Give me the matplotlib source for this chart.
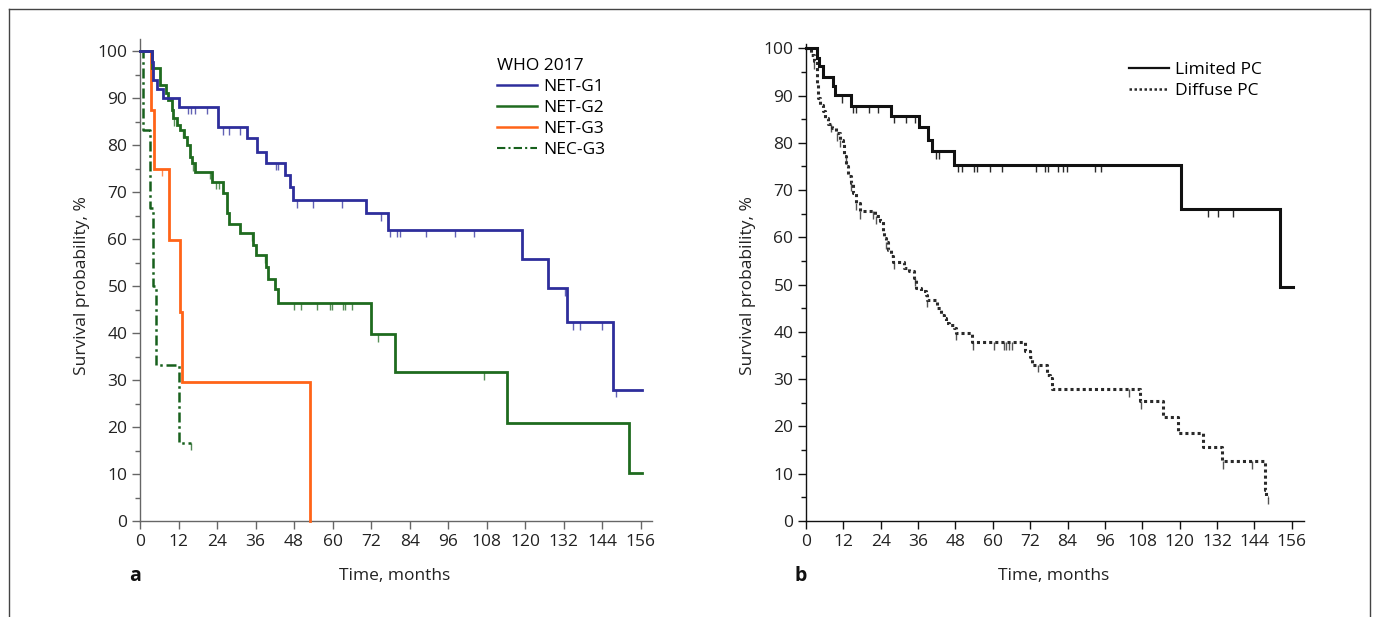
import numpy as np
import matplotlib
matplotlib.use('Agg')
import matplotlib.pyplot as plt
from matplotlib.lines import Line2D

plt.rcParams['font.family'] = ['Open Sans', 'DejaVu Sans']

# ---------------- data (panel a) ----------------
g1_t = [0, 3.6, 4.2, 5.2, 7.3, 12.2, 24.4, 33.2, 36.3, 39.2, 45.1, 46.7, 47.7, 70.3, 77.3, 119.0, 127.2, 133.1, 147.4]
g1_s = [100, 97.7, 93.8, 92.0, 90.0, 88.2, 83.8, 81.4, 78.6, 76.2, 73.6, 71.1, 68.3, 65.5, 62.0, 55.7, 49.5, 42.3, 27.9]
g1_end = 156.5
g1_cens = [15, 16, 17, 21, 26, 27.8, 31, 42.3, 43, 48.8, 54, 63, 75, 78, 80, 81, 89, 98, 104, 132.3, 135, 137, 144, 148.2]

g2_t = [0, 3.6, 6.2, 8.1, 8.8, 9.9, 10.4, 11.4, 12.5, 13.8, 14.7, 15.6, 16.3, 17.1, 22.3, 25.9, 27.0, 27.8,
        31.1, 35.3, 36.1, 39.2, 40.0, 42.2, 43.1, 72.1, 79.4, 114.2, 152.3]
g2_s = [100, 96.3, 92.8, 91.0, 89.6, 87.5, 85.7, 84.3, 83.2, 81.8, 80.0, 77.5, 76.1, 74.3, 72.2, 69.7, 65.5, 63.3,
        61.2, 58.7, 56.6, 54.1, 51.6, 49.3, 46.4, 39.7, 31.7, 20.9, 10.3]
g2_end = 156.5
g2_cens = [10.5, 13.5, 16.5, 21.8, 23.7, 24.7, 35, 39, 42, 48, 50, 55, 59.2, 59.9, 63.1, 63.8, 65.9, 74, 107.2]

g3_t = [0, 3.3, 4.4, 9.1, 12.5, 13.2, 53.1]
g3_s = [100, 87.4, 75.0, 59.8, 44.5, 29.6, 0]
g3_end = 53.1
g3_cens = [6.9]

nec_t = [0, 0.8, 3.0, 4.2, 4.9, 12.2]
nec_s = [100, 83.3, 66.7, 50.0, 33.3, 16.7]
nec_end = 16.0
nec_cens = [16.0]

# ---------------- data (panel b) ----------------
lim_t = [0, 3.4, 4.3, 5.4, 8.6, 9.3, 14.4, 27.3, 36.4, 39.3, 40.4, 47.5, 120.3, 152.3]
lim_s = [100, 98.0, 96.3, 94.0, 92.0, 90.1, 87.9, 85.7, 83.3, 80.5, 78.2, 75.4, 66.0, 49.5]
lim_end = 156.4
lim_cens = [11.4, 15.1, 16.2, 20.2, 23.1, 28.1, 32.1, 35.1, 41.7, 42.7, 48.9, 50, 53.9, 55, 59.2, 63,
            73.8, 76.8, 77.8, 80.8, 82.6, 83.7, 92.8, 94.7, 129.2, 132.4, 137.2]

dif_t = [0, 1.5, 2.6, 3.4, 3.9, 4.5, 5.5, 6.1, 7.1, 8.2, 9.5, 10.8, 11.9, 12.2, 13.0, 13.5, 14.6, 15.1, 16.2,
         17.2, 22.0, 23.6, 24.7, 25.2, 25.7, 26.3, 27.3, 27.8, 31.6, 33.2, 34.8, 35.3, 36.9, 38.5, 39.0, 42.2,
         43.3, 44.3, 44.9, 45.9, 47.5, 48.1, 53.4, 70.4, 72.0, 72.5, 77.3, 78.4, 78.9, 107.2, 114.6, 119.5,
         127.5, 133.5, 147.3, 147.8]
dif_s = [100, 98.6, 97.3, 92.7, 89.5, 88.1, 86.7, 85.3, 83.9, 83.2, 82.0, 80.7, 79.7, 77.2, 75.1, 72.9, 71.5,
         69.4, 67.3, 65.5, 64.5, 63.4, 61.3, 59.9, 59.1, 57.4, 56.0, 54.9, 53.5, 52.8, 51.4, 49.3, 48.6, 47.9,
         46.8, 45.1, 43.6, 42.9, 41.9, 41.5, 40.8, 39.8, 37.8, 35.9, 34.8, 33.1, 30.9, 30.2, 27.9, 25.3, 22.1,
         18.7, 15.7, 12.6, 6.6, 5.1]
dif_end = 148.4
dif_cens = [2.6, 7.9, 10, 10.8, 12.8, 14.6, 16.2, 17.2, 21.6, 22.5, 25.7, 28.2, 35.1, 39, 48.1, 53.6, 60.3,
            63.5, 64.3, 65.1, 66.1, 74.6, 103.8, 107.5, 134, 143.1, 148.4]

x_ticks = list(range(0, 157, 12))
y_ticks = list(range(0, 101, 10))

# ---------------- helpers ----------------
def km(ax, t, s, end, cens, color, ls='-', lw=2.0, calpha=0.75):
    t = np.asarray(t, float)
    s = np.asarray(s, float)
    ax.step(np.r_[t, end], np.r_[s, s[-1]], where='post', color=color, ls=ls, lw=lw,
            solid_joinstyle='miter', clip_on=False, zorder=3)
    c = np.asarray(cens, float)
    idx = np.searchsorted(t, c, side='right') - 1
    sc = s[idx]
    ax.vlines(c, sc - 1.6, sc, colors=color, lw=1.0, alpha=calpha, zorder=3)

def style(ax, col, xmax, ymax):
    ax.set_xlim(0, xmax)
    ax.set_ylim(0, ymax)
    for sp in ['top', 'right']:
        ax.spines[sp].set_visible(False)
    for sp in ['left', 'bottom']:
        ax.spines[sp].set_color(col)
        ax.spines[sp].set_linewidth(1.0)
    ax.set_xticks(x_ticks)
    ax.set_yticks(y_ticks)
    ax.set_yticks(np.arange(5, 100, 10), minor=True)
    ax.tick_params(which='major', direction='out', length=6, width=1, color=col,
                   labelsize=12.5, labelcolor='#222222', pad=3)
    ax.tick_params(which='minor', direction='out', length=3.5, width=1, color=col)

fig = plt.figure(figsize=(13.76, 6.17), dpi=100)
W, H = 1376.0, 617.0

# ---------------- panel a ----------------
axA = fig.add_axes([140 / W, 96 / H, 512 / W, 481.7 / H])
style(axA, '#666666', 159.5, 102.5)
c_g1, c_g2, c_g3, c_nec = '#2e2e9c', '#1f6b1f', '#ff6418', '#17601c'
km(axA, g3_t, g3_s, g3_end, g3_cens, c_g3)
km(axA, nec_t, nec_s, nec_end, nec_cens, c_nec, ls=(0, (4, 1.5, 1, 1.5)), lw=1.8)
km(axA, g2_t, g2_s, g2_end, g2_cens, c_g2)
km(axA, g1_t, g1_s, g1_end, g1_cens, c_g1)

hA = [Line2D([], [], color=c_g1, lw=1.8), Line2D([], [], color=c_g2, lw=1.8),
      Line2D([], [], color=c_g3, lw=1.8), Line2D([], [], color=c_nec, lw=1.5, ls=(0, (4, 1.5, 1, 1.5)))]
legA = axA.legend(hA, ['NET-G1', 'NET-G2', 'NET-G3', 'NEC-G3'], title='WHO 2017', loc='upper left',
                  bbox_to_anchor=(0.697, 0.962), frameon=False, fontsize=12.5, title_fontsize=12.5,
                  handlelength=2.3, handletextpad=0.35, labelspacing=0.28, borderpad=0, borderaxespad=0)
legA._legend_box.align = 'left'

# ---------------- panel b ----------------
axB = fig.add_axes([806 / W, 96 / H, 498 / W, 477.4 / H])
style(axB, '#111111', 159.9, 101)
km(axB, dif_t, dif_s, dif_end, dif_cens, '#2a2a2a', ls=(0, (1, 1)), lw=2.2, calpha=0.8)
km(axB, lim_t, lim_s, lim_end, lim_cens, '#111111', lw=2.2, calpha=0.9)

hB = [Line2D([], [], color='#111111', lw=1.6), Line2D([], [], color='#2a2a2a', lw=1.8, ls=(0, (1, 1)))]
axB.legend(hB, ['Limited PC', 'Diffuse PC'], loc='upper left', bbox_to_anchor=(0.648, 0.962),
           frameon=False, fontsize=12.5, handlelength=2.3, handletextpad=0.35, labelspacing=0.28,
           borderpad=0, borderaxespad=0)

# ---------------- labels ----------------
fs = 12.5
fig.text(82 / W, 1 - 286 / H, 'Survival probability, %', rotation=90, ha='center', va='center', fontsize=fs, color='#222222')
fig.text(395 / W, 1 - 576 / H, 'Time, months', ha='center', va='center', fontsize=fs, color='#222222')
fig.text(748 / W, 1 - 286 / H, 'Survival probability, %', rotation=90, ha='center', va='center', fontsize=fs, color='#222222')
fig.text(1054 / W, 1 - 576 / H, 'Time, months', ha='center', va='center', fontsize=fs, color='#222222')
fig.text(135 / W, 1 - 576 / H, 'a', ha='center', va='center', fontsize=14, fontweight='bold', color='#111111')
fig.text(801 / W, 1 - 576 / H, 'b', ha='center', va='center', fontsize=14, fontweight='bold', color='#111111')

# ---------------- border ----------------
bc = '#444444'
fig.add_artist(Line2D([9 / W, 1370 / W], [1 - 9 / H, 1 - 9 / H], transform=fig.transFigure, color=bc, lw=1))
fig.add_artist(Line2D([9 / W, 9 / W], [0, 1 - 9 / H], transform=fig.transFigure, color=bc, lw=1))
fig.add_artist(Line2D([1370 / W, 1370 / W], [0, 1 - 9 / H], transform=fig.transFigure, color=bc, lw=1))

fig.savefig('out.png', dpi=100)
